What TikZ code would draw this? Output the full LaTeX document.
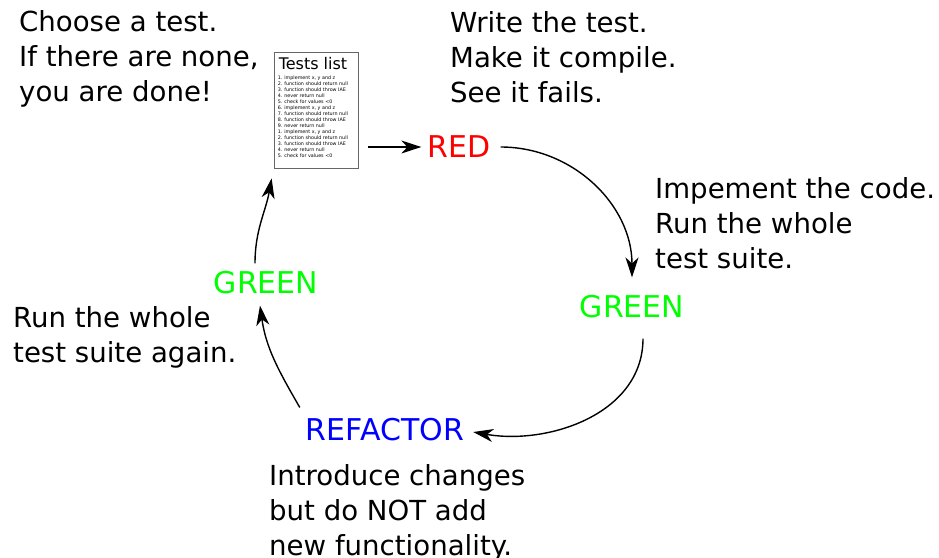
\documentclass[tikz,border=0pt]{standalone}
\usepackage{fontspec}
\setmainfont{DejaVu Sans}
\usetikzlibrary{arrows.meta}

\tikzset{
  phase/.style={inner sep=0pt, font=\fontsize{30}{36}\selectfont},
  note/.style={inner sep=0pt, anchor=north west, align=left, font=\fontsize{27.6}{35}\selectfont},
  flow/.style={line width=1.4pt, -{Stealth[length=20pt,width=13pt,inset=6pt]}},
  listbox/.style={draw=black!60, line width=0.8pt, minimum width=84pt, minimum height=116pt, inner sep=0pt}
}

\begin{document}
\begin{tikzpicture}[x=1pt,y=-1pt]
	\useasboundingbox (0,0) rectangle (939,557);

	% the list of tests to pick from
	\node[listbox] (tests) at (316,110) {};
	\node[inner sep=0pt, anchor=north west, font=\fontsize{16}{17}\selectfont] (title) at ([shift={(5,6)}]tests.north west) {Tests list};
	\node[inner sep=0pt, anchor=north west, align=left, font=\fontsize{4.8}{6}\selectfont] (items) at ([shift={(4,24)}]tests.north west) {%
		1. implement x, y and z\\
		2. function should return null\\
		3. function should throw IAE\\
		4. never return null\\
		5. check for values <0\\
		6. implement x, y and z\\
		7. function should return null\\
		8. function should throw IAE\\
		9. never return null\\
		1. implement x, y and z\\
		2. function should return null\\
		3. function should throw IAE\\
		4. never return null\\
		5. check for values <0};

	% the phases of the cycle
	\node[phase, text=red] (red) at (459,147) {RED};
	\node[phase, text=green] (greenA) at (632,307) {GREEN};
	\node[phase, text=blue] (refactor) at (385,430) {REFACTOR};
	\node[phase, text=green] (greenB) at (266,283) {GREEN};

	% what to do at each step
	\node[note] (choose) at (19,10) {Choose a test.\\If there are none,\\you are done!};
	\node[note] (write) at (450,11) {Write the test.\\Make it compile.\\See it fails.};
	\node[note] (impl) at (655,177) {Impement the code.\\Run the whole\\test suite.};
	\node[note] (intro) at (269,464) {Introduce changes\\but do NOT add\\new functionality.};
	\node[note] (again) at (13,306) {Run the whole\\test suite again.};

	% connectors
	\draw[flow] ([xshift=10pt]tests.east |- red.west) -- ([xshift=-6pt]red.west);
	\draw[flow] ([xshift=10pt]red.east) to[out=0, in=90] ([yshift=18pt]greenA.north);
	\draw[flow] ([shift={(11pt,-20pt)}]greenA.south) to[out=-90, in=-10] ([xshift=9pt, yshift=-2pt]refactor.east);
	\draw[flow] ([shift={(-6pt,11pt)}]refactor.north west) to[out=120, in=-82] ([shift={(-6pt,-11pt)}]greenB.south);
	\draw[flow] ([shift={(-11pt,8pt)}]greenB.north) to[out=90, in=-100] ([shift={(-2pt,-10pt)}]tests.south west);
\end{tikzpicture}
\end{document}
